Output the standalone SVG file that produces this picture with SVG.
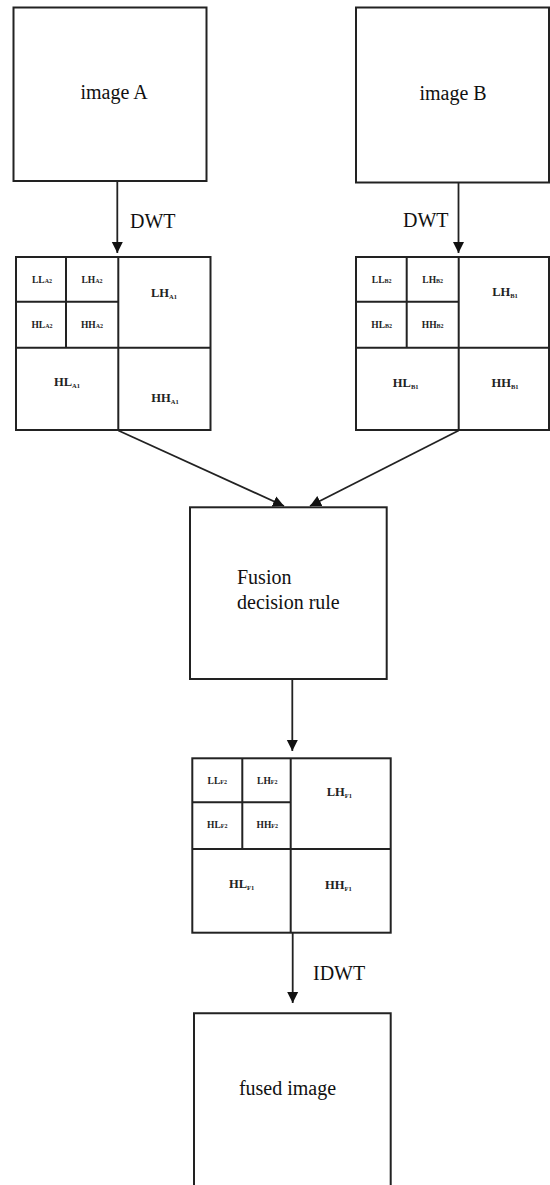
<svg xmlns="http://www.w3.org/2000/svg" width="550" height="1185" viewBox="0 0 550 1185">
<style>
.box{fill:#fff;stroke:#222;stroke-width:2}
.ln{fill:none;stroke:#222;stroke-width:2}
.con{fill:none;stroke:#222;stroke-width:1.8}
.t{font-family:"Liberation Serif","Times New Roman",serif;font-size:20px;fill:#111}
.tm{text-anchor:middle}
.big{font-family:"Liberation Serif","Times New Roman",serif;font-size:12.5px;font-weight:bold;fill:#222;text-anchor:middle}
.sm{font-family:"Liberation Serif","Times New Roman",serif;font-size:9.5px;font-weight:bold;fill:#222;text-anchor:middle}
.sub{font-size:6.5px}
.subs{font-size:6px}
</style>
<defs>
<marker id="ah" markerUnits="userSpaceOnUse" markerWidth="12" markerHeight="12" viewBox="0 0 12 12" refX="11" refY="6" orient="auto">
<path d="M0,0.5 L11,6 L0,11.5 Z" fill="#111"/>
</marker>
</defs>

<g id="imageA">
<rect class="box" x="13.5" y="7.5" width="193" height="173.5"/>
<text class="t tm" x="114" y="99">image A</text>
</g>

<g id="imageB">
<rect class="box" x="356" y="7.5" width="193" height="175"/>
<text class="t tm" x="453" y="100">image B</text>
</g>

<g id="gridA">
<rect class="box" x="16" y="257" width="194.5" height="173"/>
<path class="ln" d="M118.3,257 V430 M16,347.7 H210.5 M66,257 V347.7 M16,301.7 H118.3"/>
<text class="sm" x="42" y="283">LL<tspan class="subs">A2</tspan></text>
<text class="sm" x="92" y="283">LH<tspan class="subs">A2</tspan></text>
<text class="sm" x="42" y="328">HL<tspan class="subs">A2</tspan></text>
<text class="sm" x="92" y="328">HH<tspan class="subs">A2</tspan></text>
<text class="big" x="164" y="297">LH<tspan class="sub" dy="2">A1</tspan></text>
<text class="big" x="67" y="386">HL<tspan class="sub" dy="2">A1</tspan></text>
<text class="big" x="165" y="402">HH<tspan class="sub" dy="2">A1</tspan></text>
</g>

<g id="gridB">
<rect class="box" x="356" y="257" width="193" height="173"/>
<path class="ln" d="M458.7,257 V430 M356,347.7 H549 M406.7,257 V347.7 M356,301.7 H458.7"/>
<text class="sm" x="381.7" y="283">LL<tspan class="subs">B2</tspan></text>
<text class="sm" x="432.7" y="283">LH<tspan class="subs">B2</tspan></text>
<text class="sm" x="381.7" y="328">HL<tspan class="subs">B2</tspan></text>
<text class="sm" x="432.7" y="328">HH<tspan class="subs">B2</tspan></text>
<text class="big" x="505" y="296">LH<tspan class="sub" dy="2">B1</tspan></text>
<text class="big" x="405.7" y="387">HL<tspan class="sub" dy="2">B1</tspan></text>
<text class="big" x="505" y="387">HH<tspan class="sub" dy="2">B1</tspan></text>
</g>

<g id="fusion">
<rect class="box" x="190" y="507.3" width="196.7" height="171.7"/>
<text class="t" x="237" y="584">Fusion</text>
<text class="t" x="237" y="609">decision rule</text>
</g>

<g id="gridF">
<rect class="box" x="192.3" y="758.3" width="198.4" height="174.4"/>
<path class="ln" d="M290.7,758.3 V932.7 M192.3,849 H390.7 M242.3,758.3 V849 M192.3,802.3 H290.7"/>
<text class="sm" x="217.3" y="784">LL<tspan class="subs">F2</tspan></text>
<text class="sm" x="267.3" y="784">LH<tspan class="subs">F2</tspan></text>
<text class="sm" x="217.3" y="828">HL<tspan class="subs">F2</tspan></text>
<text class="sm" x="267.3" y="828">HH<tspan class="subs">F2</tspan></text>
<text class="big" x="339.3" y="796">LH<tspan class="sub" dy="2">F1</tspan></text>
<text class="big" x="241.7" y="888">HL<tspan class="sub" dy="2">F1</tspan></text>
<text class="big" x="338.3" y="889">HH<tspan class="sub" dy="2">F1</tspan></text>
</g>

<g id="fused">
<path class="box" d="M194,1186 V1013.3 H390.7 V1186"/>
<text class="t tm" x="287.5" y="1095">fused image</text>
</g>

<g id="connectors">
<line class="con" x1="117.3" y1="181" x2="117.3" y2="253" marker-end="url(#ah)"/>
<line class="con" x1="458.5" y1="182.5" x2="458.5" y2="253" marker-end="url(#ah)"/>
<line class="con" x1="118.3" y1="430.5" x2="284" y2="506" marker-end="url(#ah)"/>
<line class="con" x1="458.7" y1="430.5" x2="310" y2="506" marker-end="url(#ah)"/>
<line class="con" x1="292.3" y1="679" x2="292.3" y2="751" marker-end="url(#ah)"/>
<line class="con" x1="292.7" y1="932.7" x2="292.7" y2="1003" marker-end="url(#ah)"/>
<text class="t" x="130" y="228">DWT</text>
<text class="t" x="403" y="227">DWT</text>
<text class="t" x="313" y="980">IDWT</text>
</g>
</svg>
